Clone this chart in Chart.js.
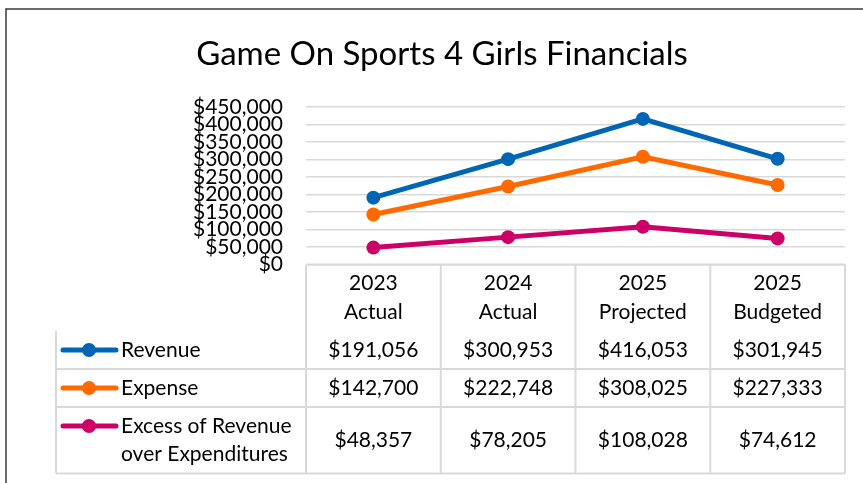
<!DOCTYPE html>
<html>
<head>
<meta charset="utf-8">
<script src="https://cdn.jsdelivr.net/npm/chart.js@4.4.1/dist/chart.umd.min.js"></script>
<style>
  html, body { margin: 0; padding: 0; background: #fff; }
  #wrap { width: 863px; height: 483px; position: relative; }
</style>
</head>
<body>
<div id="wrap"><canvas id="grafico" width="863" height="483"></canvas></div>
<script>
// ===================== DADOS =====================

const titulo = "Game On Sports 4 Girls Financials";
const categorias = [["2023", "Actual"], ["2024", "Actual"], ["2025", "Projected"], ["2025", "Budgeted"]];
const nomesSeries = ["Revenue", "Expense", "Excess of Revenue over Expenditures"];
const receita = [191056, 300953, 416053, 301945];
const despesa = [142700, 222748, 308025, 227333];
const excedente = [48357, 78205, 108028, 74612];
const coresSeries = ["#0066B3", "#FF6A00", "#CC0066"];

const FONTE = "Lato, 'Liberation Sans', sans-serif";
const COR_TEXTO = "#000";
const fmt = (v) => "$" + v.toLocaleString("en-US");

// ===================== TITULO, MOLDURA E TABELA =====================

const tabelaPlugin = {
  id: "tabela",
  afterDraw(chart) {
    const ctx = chart.ctx;
    const x = chart.scales.x;
    const area = chart.chartArea;
    const valores = [receita, despesa, excedente];
    const larg = (area.right - area.left) / categorias.length;
    const esquerdaTab = 56;
    const textoX = 121;

    ctx.save();

    // titulo
    ctx.font = "33px " + FONTE;
    ctx.fillStyle = COR_TEXTO;
    ctx.textAlign = "center";
    ctx.textBaseline = "alphabetic";
    ctx.fillText(titulo, 442, 65);

    ctx.font = "21px " + FONTE;
    ctx.textBaseline = "middle";

    // quebra de linha dos nomes
    function quebrar(txt, max) {
      const palavras = txt.split(" ");
      const linhas = [];
      let atual = "";
      palavras.forEach((p) => {
        const teste = atual ? atual + " " + p : p;
        if (ctx.measureText(teste).width > max && atual) {
          linhas.push(atual);
          atual = p;
        } else {
          atual = teste;
        }
      });
      linhas.push(atual);
      return linhas;
    }

    const lh = 28.5;
    const alturaLinha = (n) => 9.5 + lh * n;

    // cabeçalho
    let y = area.bottom;
    const hCab = alturaLinha(2);
    const linhasY = [y];
    ctx.fillStyle = COR_TEXTO;
    ctx.textAlign = "center";
    categorias.forEach((c, i) => {
      const cx = x.getPixelForValue(i);
      c.forEach((t, k) => {
        ctx.fillText(t, cx, y + hCab / 2 + (k - (c.length - 1) / 2) * lh);
      });
    });
    ctx.strokeStyle = "#d9d9d9";
    ctx.lineWidth = 2;
    ctx.beginPath();
    ctx.moveTo(area.left, y);
    ctx.lineTo(area.right, y);
    ctx.stroke();
    y += hCab;

    const legendasLinhas = nomesSeries.map((n) => quebrar(n, area.left - textoX - 2));
    const topoLinhas = y;
    legendasLinhas.forEach((linhas, s) => {
      const h = alturaLinha(linhas.length);
      const meio = y + h / 2;
      // valores
      ctx.textAlign = "center";
      ctx.fillStyle = COR_TEXTO;
      valores[s].forEach((v, i) => {
        ctx.fillText(fmt(v), x.getPixelForValue(i), meio);
      });
      // nome
      ctx.textAlign = "left";
      linhas.forEach((t, k) => {
        ctx.fillText(t, textoX, meio + (k - (linhas.length - 1) / 2) * lh);
      });
      // marcador da legenda
      const my = meio - ((linhas.length - 1) / 2) * lh;
      ctx.strokeStyle = coresSeries[s];
      ctx.lineWidth = 5;
      ctx.lineCap = "round";
      ctx.beginPath();
      ctx.moveTo(63, my);
      ctx.lineTo(116, my);
      ctx.stroke();
      ctx.fillStyle = coresSeries[s];
      ctx.beginPath();
      ctx.arc(89, my, 7, 0, Math.PI * 2);
      ctx.fill();
      y += h;
      linhasY.push(y);
    });

    // grade da tabela
    ctx.strokeStyle = "#d9d9d9";
    ctx.lineWidth = 2;
    ctx.lineCap = "butt";
    ctx.beginPath();
    linhasY.slice(1).forEach((ly) => {
      ctx.moveTo(esquerdaTab, ly);
      ctx.lineTo(area.right, ly);
    });
    for (let i = 0; i <= categorias.length; i++) {
      const vx = area.left + larg * i;
      ctx.moveTo(vx, area.bottom);
      ctx.lineTo(vx, y);
    }
    ctx.moveTo(esquerdaTab, topoLinhas);
    ctx.lineTo(esquerdaTab, y);
    ctx.stroke();

    // moldura externa
    ctx.strokeStyle = "#3a3a3a";
    ctx.lineWidth = 1.5;
    ctx.beginPath();
    ctx.moveTo(6, 490);
    ctx.lineTo(6, 9);
    ctx.lineTo(870, 9);
    ctx.stroke();
    ctx.restore();
  },
};

// ===================== GRAFICO =====================

const ctx = document.getElementById("grafico");

new Chart(ctx, {
  type: "line",
  data: {
    labels: categorias,
    datasets: [
      { label: nomesSeries[0], data: receita },
      { label: nomesSeries[1], data: despesa },
      { label: nomesSeries[2], data: excedente },
    ].map((d, i) => ({
      ...d,
      borderColor: coresSeries[i],
      backgroundColor: coresSeries[i],
      borderWidth: 5,
      pointRadius: 7,
      pointHoverRadius: 7,
      pointBorderWidth: 0,
      tension: 0,
    })),
  },
  options: {
    responsive: false,
    animation: false,
    layout: { padding: { top: 107, bottom: 218.5, left: 0, right: 18 } },
    plugins: {
      legend: { display: false },
      tooltip: { enabled: false },
      title: { display: false },
    },
    scales: {
      x: { display: false, offset: true },
      y: {
        min: 0,
        max: 450000,
        afterFit(scale) {
          scale.width = 306;
        },
        border: { display: false },
        grid: { color: "#d9d9d9", lineWidth: 1.5, drawTicks: false },
        ticks: {
          stepSize: 50000,
          autoSkip: false,
          padding: 23,
          color: COR_TEXTO,
          font: { family: FONTE, size: 21 },
          callback: (v) => fmt(v),
        },
      },
    },
  },
  plugins: [tabelaPlugin],
});
</script>
</body>
</html>
